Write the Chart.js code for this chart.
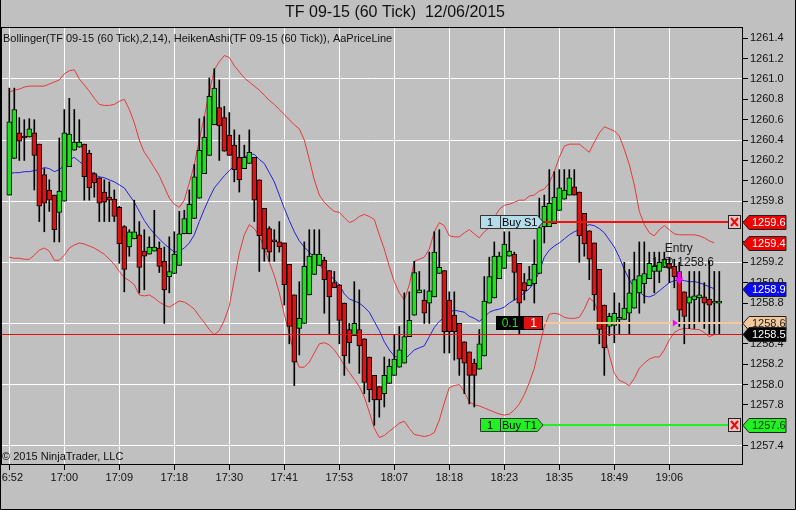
<!DOCTYPE html>
<html>
<head>
<meta charset="utf-8">
<script src="https://cdn.jsdelivr.net/npm/chart.js@4.4.1/dist/chart.umd.min.js"></script>
<style>
  html, body { margin: 0; padding: 0; background: #c0c0c0; }
  canvas { display: block; }
</style>
</head>
<body>
<canvas id="chart" width="796" height="510"></canvas>
<script>
// TF 09-15 (60 Tick) Heiken Ashi + Bollinger(2,14)

const timeLabels = ['16:52', '17:00', '17:09', '17:18', '17:30', '17:41', '17:53', '18:07', '18:18', '18:23', '18:35', '18:49', '19:06'];
const tickBars = [0, 11, 22, 33, 44, 55, 66, 77, 88, 99, 110, 121, 132];
const priceTicks = [1257.4, 1257.6, 1257.8, 1258.0, 1258.2, 1258.4, 1258.6, 1258.8, 1259.0, 1259.2,
  1259.4, 1259.6, 1259.8, 1260.0, 1260.2, 1260.4, 1260.6, 1260.8, 1261.0, 1261.2, 1261.4];

const openP = [
  1259.86, 1260.22, 1260.47, 1260.43, 1260.43, 1260.47, 1260.36, 1260.06, 1259.91, 1259.86,
  1259.69, 1259.80, 1260.14, 1260.30, 1260.33, 1260.36, 1260.27, 1260.07, 1260.03, 1259.89,
  1259.84, 1259.82, 1259.74, 1259.55, 1259.35, 1259.43, 1259.47, 1259.31, 1259.28, 1259.31,
  1259.34, 1259.21, 1259.06, 1259.09, 1259.17, 1259.48, 1259.48, 1259.63, 1259.83, 1260.07,
  1260.25, 1260.55, 1260.72, 1260.62, 1260.45, 1260.35, 1260.23, 1260.12, 1260.17, 1260.23,
  1260.01, 1259.73, 1259.53, 1259.41, 1259.40, 1259.39, 1259.18, 1258.88, 1258.55, 1258.60,
  1258.88, 1259.08, 1259.17, 1259.22, 1259.12, 1259.00, 1258.98, 1258.80, 1258.54, 1258.48,
  1258.54, 1258.45, 1258.27, 1258.09, 1257.98, 1257.91, 1258.01, 1258.09, 1258.17, 1258.21,
  1258.47, 1258.68, 1258.90, 1258.83, 1258.80, 1258.86, 1259.09, 1259.12, 1258.83, 1258.68,
  1258.60, 1258.42, 1258.32, 1258.21, 1258.15, 1258.28, 1258.80, 1258.85, 1259.04, 1259.14,
  1259.26, 1259.28, 1259.19, 1259.00, 1258.97, 1258.99, 1259.09, 1259.55, 1259.55, 1259.58,
  1259.71, 1259.82, 1259.86, 1259.94, 1259.89, 1259.68, 1259.51, 1259.39, 1259.13, 1258.78,
  1258.57, 1258.58, 1258.64, 1258.64, 1258.70, 1258.75, 1258.90, 1258.99, 1259.04, 1259.11,
  1259.11, 1259.15, 1259.19, 1259.16, 1259.11, 1258.91, 1258.80, 1258.83, 1258.85, 1258.86,
  1258.84, 1258.80, 1258.80
];
const closeP = [
  1260.58, 1260.70, 1260.39, 1260.42, 1260.51, 1260.25, 1259.75, 1259.78, 1259.81, 1259.52,
  1259.90, 1260.47, 1260.46, 1260.38, 1260.38, 1260.04, 1259.93, 1259.98, 1259.78, 1259.79,
  1259.81, 1259.65, 1259.38, 1259.13, 1259.50, 1259.50, 1259.15, 1259.26, 1259.35, 1259.35,
  1259.16, 1258.93, 1259.11, 1259.28, 1259.48, 1259.63, 1259.77, 1260.04, 1260.30, 1260.43,
  1260.83, 1260.91, 1260.54, 1260.29, 1260.25, 1260.11, 1260.01, 1260.23, 1260.28, 1259.81,
  1259.46, 1259.33, 1259.30, 1259.40, 1259.35, 1258.98, 1258.57, 1258.22, 1258.65, 1259.16,
  1259.26, 1259.28, 1259.28, 1259.03, 1258.86, 1258.95, 1258.63, 1258.28, 1258.41, 1258.60,
  1258.38, 1258.02, 1257.95, 1257.85, 1257.85, 1258.09, 1258.18, 1258.25, 1258.34, 1258.47,
  1258.63, 1259.10, 1258.93, 1258.70, 1258.92, 1259.30, 1259.15, 1258.52, 1258.52, 1258.52,
  1258.25, 1258.21, 1258.09, 1258.09, 1258.40, 1258.82, 1259.06, 1259.26, 1259.26, 1259.38,
  1259.31, 1259.10, 1258.80, 1258.92, 1259.03, 1259.18, 1259.54, 1259.75, 1259.78, 1259.84,
  1259.93, 1259.91, 1260.03, 1259.86, 1259.46, 1259.38, 1259.23, 1258.88, 1258.54, 1258.36,
  1258.67, 1258.70, 1258.65, 1258.75, 1258.90, 1259.03, 1259.07, 1259.09, 1259.19, 1259.16,
  1259.20, 1259.23, 1259.14, 1259.06, 1258.73, 1258.67, 1258.86, 1258.87, 1258.88, 1258.80,
  1258.78, 1258.80, 1258.80
];
const highP = [
  1260.91, 1260.91, 1260.62, 1260.60, 1260.61, 1260.60, 1260.36, 1260.12, 1260.01, 1259.86,
  1260.42, 1260.70, 1260.81, 1260.70, 1260.60, 1260.36, 1260.30, 1260.08, 1260.03, 1260.01,
  1259.99, 1259.91, 1259.75, 1259.56, 1259.52, 1259.81, 1259.60, 1259.52, 1259.45, 1259.71,
  1259.40, 1259.35, 1259.45, 1259.50, 1259.70, 1259.71, 1259.91, 1260.16, 1260.61, 1260.63,
  1261.01, 1261.10, 1260.99, 1260.73, 1260.67, 1260.50, 1260.45, 1260.35, 1260.50, 1260.23,
  1260.01, 1259.73, 1259.55, 1259.52, 1259.60, 1259.39, 1259.18, 1258.88, 1259.01, 1259.40,
  1259.52, 1259.52, 1259.52, 1259.25, 1259.12, 1259.11, 1258.98, 1258.80, 1258.60, 1259.01,
  1258.93, 1258.45, 1258.27, 1258.09, 1257.98, 1258.27, 1258.25, 1258.49, 1258.57, 1258.90,
  1258.91, 1259.21, 1259.11, 1258.93, 1259.30, 1259.50, 1259.52, 1259.12, 1258.91, 1258.91,
  1258.60, 1258.42, 1258.32, 1258.25, 1258.54, 1259.06, 1259.25, 1259.40, 1259.30, 1259.50,
  1259.50, 1259.30, 1259.19, 1259.09, 1259.16, 1259.42, 1259.83, 1259.86, 1260.11, 1260.09,
  1260.11, 1260.11, 1260.11, 1260.11, 1259.89, 1259.68, 1259.51, 1259.39, 1259.13, 1258.78,
  1258.70, 1258.90, 1258.80, 1259.20, 1259.13, 1259.30, 1259.40, 1259.40, 1259.30, 1259.30,
  1259.30, 1259.30, 1259.25, 1259.23, 1259.20, 1258.91, 1259.11, 1259.11, 1259.11, 1259.00,
  1259.21, 1259.11, 1259.11
];
const lowP = [
  1259.86, 1260.22, 1260.20, 1260.20, 1260.43, 1259.91, 1259.60, 1259.50, 1259.70, 1259.40,
  1259.40, 1259.80, 1260.14, 1260.30, 1260.33, 1259.81, 1259.81, 1259.84, 1259.60, 1259.60,
  1259.60, 1259.60, 1259.19, 1258.91, 1259.26, 1259.43, 1258.90, 1258.93, 1259.28, 1259.31,
  1259.10, 1258.60, 1258.90, 1259.09, 1259.17, 1259.48, 1259.48, 1259.63, 1259.83, 1260.07,
  1260.25, 1260.55, 1260.20, 1260.29, 1260.25, 1259.99, 1259.89, 1260.12, 1260.17, 1259.60,
  1259.11, 1259.21, 1259.21, 1259.21, 1259.30, 1258.78, 1258.40, 1257.99, 1258.29, 1258.60,
  1258.88, 1259.08, 1259.17, 1258.70, 1258.50, 1258.95, 1258.40, 1258.09, 1258.21, 1258.48,
  1258.11, 1257.91, 1257.83, 1257.60, 1257.68, 1257.78, 1258.01, 1258.09, 1258.17, 1258.21,
  1258.47, 1258.68, 1258.90, 1258.60, 1258.60, 1258.86, 1259.09, 1258.31, 1258.31, 1258.24,
  1258.09, 1257.91, 1257.81, 1257.78, 1258.15, 1258.28, 1258.80, 1258.85, 1259.04, 1259.14,
  1259.26, 1258.83, 1258.50, 1258.83, 1258.97, 1258.80, 1259.09, 1259.39, 1259.55, 1259.58,
  1259.71, 1259.82, 1259.86, 1259.86, 1259.20, 1259.26, 1259.03, 1258.73, 1258.40, 1258.09,
  1258.48, 1258.41, 1258.50, 1258.64, 1258.50, 1258.75, 1258.70, 1258.80, 1259.04, 1258.90,
  1259.00, 1259.15, 1259.00, 1258.95, 1258.57, 1258.40, 1258.55, 1258.55, 1258.60, 1258.55,
  1258.50, 1258.50, 1258.50
];

const bbUpper = [
  1260.87, 1260.89, 1260.90, 1260.92, 1260.93, 1260.93, 1260.93, 1260.93, 1260.95, 1260.97,
  1260.99, 1261.05, 1261.08, 1261.09, 1261.00, 1260.94, 1260.88, 1260.81, 1260.75, 1260.74,
  1260.74, 1260.75, 1260.78, 1260.80, 1260.70, 1260.57, 1260.40, 1260.28, 1260.21, 1260.13,
  1260.05, 1259.94, 1259.83, 1259.77, 1259.74, 1259.81, 1259.98, 1260.16, 1260.40, 1260.63,
  1260.87, 1261.09, 1261.17, 1261.23, 1261.21, 1261.13, 1261.07, 1261.01, 1260.97, 1260.93,
  1260.89, 1260.84, 1260.79, 1260.75, 1260.70, 1260.65, 1260.60, 1260.55, 1260.51, 1260.40,
  1260.21, 1260.01, 1259.86, 1259.79, 1259.74, 1259.70, 1259.69, 1259.64, 1259.59, 1259.61,
  1259.65, 1259.67, 1259.65, 1259.62, 1259.47, 1259.33, 1259.16, 1259.01, 1258.90, 1258.83,
  1258.98, 1259.21, 1259.23, 1259.25, 1259.33, 1259.50, 1259.59, 1259.56, 1259.46, 1259.45,
  1259.45, 1259.49, 1259.52, 1259.48, 1259.44, 1259.50, 1259.54, 1259.64, 1259.72, 1259.76,
  1259.77, 1259.79, 1259.81, 1259.81, 1259.85, 1259.86, 1259.90, 1259.92, 1259.98, 1260.09,
  1260.23, 1260.34, 1260.36, 1260.36, 1260.36, 1260.32, 1260.28, 1260.38, 1260.47, 1260.53,
  1260.51, 1260.49, 1260.44, 1260.31, 1260.16, 1259.96, 1259.70, 1259.57, 1259.49, 1259.46,
  1259.52, 1259.56, 1259.52, 1259.48, 1259.47, 1259.47, 1259.47, 1259.47, 1259.46, 1259.44,
  1259.41, 1259.39
];
const bbMid = [
  1260.07, 1260.08, 1260.08, 1260.09, 1260.09, 1260.10, 1260.11, 1260.13, 1260.12, 1260.09,
  1260.11, 1260.15, 1260.21, 1260.23, 1260.19, 1260.15, 1260.11, 1260.06, 1260.04, 1260.03,
  1260.01, 1259.99, 1259.96, 1259.93, 1259.86, 1259.79, 1259.70, 1259.61, 1259.54, 1259.48,
  1259.43, 1259.38, 1259.34, 1259.30, 1259.31, 1259.34, 1259.39, 1259.47, 1259.60, 1259.72,
  1259.83, 1259.93, 1259.99, 1260.05, 1260.10, 1260.15, 1260.19, 1260.23, 1260.26, 1260.26,
  1260.21, 1260.17, 1260.08, 1259.99, 1259.86, 1259.73, 1259.61, 1259.50, 1259.41, 1259.35,
  1259.30, 1259.25, 1259.18, 1259.12, 1259.08, 1259.03, 1258.98, 1258.89, 1258.84, 1258.82,
  1258.80, 1258.76, 1258.71, 1258.62, 1258.53, 1258.42, 1258.34, 1258.28, 1258.26, 1258.25,
  1258.29, 1258.34, 1258.36, 1258.38, 1258.47, 1258.56, 1258.62, 1258.66, 1258.71, 1258.73,
  1258.72, 1258.71, 1258.67, 1258.65, 1258.62, 1258.66, 1258.71, 1258.73, 1258.74, 1258.76,
  1258.80, 1258.83, 1258.86, 1258.90, 1258.94, 1259.00, 1259.11, 1259.25, 1259.32, 1259.36,
  1259.39, 1259.43, 1259.47, 1259.50, 1259.52, 1259.55, 1259.57, 1259.56, 1259.53, 1259.49,
  1259.42, 1259.35, 1259.25, 1259.13, 1259.03, 1258.95, 1258.91, 1258.87, 1258.86, 1258.88,
  1258.92, 1258.96, 1259.00, 1259.02, 1259.03, 1259.02, 1259.01, 1259.01, 1259.00, 1258.98,
  1258.96, 1258.94
];
const bbLower = [
  1259.25, 1259.24, 1259.24, 1259.23, 1259.23, 1259.27, 1259.32, 1259.34, 1259.31, 1259.22,
  1259.22, 1259.27, 1259.34, 1259.37, 1259.39, 1259.38, 1259.36, 1259.34, 1259.31, 1259.28,
  1259.23, 1259.18, 1259.11, 1259.05, 1259.02, 1258.98, 1258.88, 1258.87, 1258.88, 1258.85,
  1258.81, 1258.78, 1258.76, 1258.79, 1258.82, 1258.81, 1258.78, 1258.74, 1258.67, 1258.61,
  1258.54, 1258.49, 1258.53, 1258.63, 1258.77, 1259.03, 1259.29, 1259.47, 1259.57, 1259.53,
  1259.46, 1259.34, 1259.20, 1259.07, 1258.90, 1258.69, 1258.50, 1258.29, 1258.17, 1258.17,
  1258.22, 1258.31, 1258.40, 1258.41, 1258.39, 1258.34, 1258.27, 1258.19, 1258.12, 1258.05,
  1257.98, 1257.88, 1257.73, 1257.57, 1257.48, 1257.50, 1257.54, 1257.58, 1257.62, 1257.64,
  1257.57, 1257.51, 1257.50, 1257.49, 1257.50, 1257.53, 1257.65, 1257.82, 1257.97, 1257.99,
  1258.00, 1257.93, 1257.83, 1257.80, 1257.79, 1257.77, 1257.75, 1257.73, 1257.71, 1257.70,
  1257.71, 1257.75, 1257.81, 1257.90, 1258.02, 1258.16, 1258.37, 1258.57, 1258.69, 1258.70,
  1258.69, 1258.66, 1258.65, 1258.65, 1258.66, 1258.74, 1258.85, 1258.81, 1258.68, 1258.50,
  1258.29, 1258.11, 1258.04, 1258.02, 1257.99, 1258.06, 1258.16, 1258.21, 1258.25, 1258.27,
  1258.27, 1258.34, 1258.44, 1258.51, 1258.54, 1258.55, 1258.55, 1258.54, 1258.54, 1258.51,
  1258.47, 1258.49
];

// order / price levels
const buyStop = 1259.6;     // 1 Buy S1
const buyTarget = 1257.6;   // 1 Buy T1
const entryPrice = 1258.6;  // 1 @ 1258.6
const priceLine = 1258.5;   // AaPriceLine
const entryBar = 134;
const arrowPrice = 1258.98;
const tagBar = 94.1;

const FONT = '"Liberation Sans", Arial, sans-serif';
const GREEN = '#1fe01f';
const RED = '#d81414';

const idx = openP.map((_, i) => i);

function flag(ctx, xTip, y, fill, text, textColor) {
  ctx.beginPath();
  ctx.moveTo(xTip, y);
  ctx.lineTo(xTip + 6, y - 7);
  ctx.lineTo(xTip + 43, y - 7);
  ctx.lineTo(xTip + 43, y + 7);
  ctx.lineTo(xTip + 6, y + 7);
  ctx.closePath();
  ctx.fillStyle = fill;
  ctx.fill();
  ctx.strokeStyle = '#222';
  ctx.lineWidth = 1;
  ctx.stroke();
  ctx.fillStyle = textColor;
  ctx.font = '11px ' + FONT;
  ctx.textAlign = 'left';
  ctx.textBaseline = 'middle';
  ctx.fillText(text, xTip + 9, y + 0.5);
}

function orderTag(ctx, x0, y, fill, qty, name) {
  ctx.beginPath();
  ctx.moveTo(x0 + 0.5, y - 6.5);
  ctx.lineTo(x0 + 57.5, y - 6.5);
  ctx.lineTo(x0 + 63, y);
  ctx.lineTo(x0 + 57.5, y + 6.5);
  ctx.lineTo(x0 + 0.5, y + 6.5);
  ctx.closePath();
  ctx.fillStyle = fill;
  ctx.fill();
  ctx.strokeStyle = '#333';
  ctx.lineWidth = 1;
  ctx.stroke();
  ctx.beginPath();
  ctx.moveTo(x0 + 20.5, y - 6.5);
  ctx.lineTo(x0 + 20.5, y + 6.5);
  ctx.stroke();
  ctx.fillStyle = '#000';
  ctx.font = '11px ' + FONT;
  ctx.textBaseline = 'middle';
  ctx.textAlign = 'center';
  ctx.fillText(qty, x0 + 10, y + 0.5);
  ctx.textAlign = 'left';
  ctx.fillText(name, x0 + 22, y + 0.5);
}

function cancelBox(ctx, xr, y) {
  ctx.fillStyle = '#f0c4c4';
  ctx.fillRect(xr - 14, y - 7, 13, 14);
  ctx.strokeStyle = '#222';
  ctx.lineWidth = 1;
  ctx.strokeRect(xr - 13.5, y - 6.5, 12, 13);
  ctx.strokeStyle = '#e01010';
  ctx.lineWidth = 2;
  ctx.beginPath();
  ctx.moveTo(xr - 11, y - 4); ctx.lineTo(xr - 4, y + 4);
  ctx.moveTo(xr - 4, y - 4); ctx.lineTo(xr - 11, y + 4);
  ctx.stroke();
}

const overlay = {
  id: 'overlay',
  beforeDraw(chart) {
    const ctx = chart.ctx;
    ctx.save();
    ctx.fillStyle = '#c0c0c0';
    ctx.fillRect(0, 0, chart.width, chart.height);
    ctx.restore();
  },
  afterDatasetsDraw(chart) {
    const ctx = chart.ctx;
    const a = chart.chartArea;
    const xs = chart.scales.x, ys = chart.scales.y;
    const tagX = Math.round(xs.getPixelForValue(tagBar));
    const lineStart = tagX + 63;
    ctx.save();
    ctx.beginPath();
    ctx.rect(a.left, a.top, a.right - a.left, a.bottom - a.top);
    ctx.clip();

    // AaPriceLine
    let y = Math.round(ys.getPixelForValue(priceLine)) + 0.5;
    ctx.strokeStyle = '#e01010';
    ctx.lineWidth = 1;
    ctx.beginPath(); ctx.moveTo(a.left, y); ctx.lineTo(a.right, y); ctx.stroke();

    // entry position line
    y = Math.round(ys.getPixelForValue(entryPrice));
    ctx.strokeStyle = '#f4c89c';
    ctx.lineWidth = 2;
    ctx.beginPath(); ctx.moveTo(lineStart - 2, y); ctx.lineTo(a.right, y); ctx.stroke();

    // stop and target orders
    const yS = Math.round(ys.getPixelForValue(buyStop));
    const yT = Math.round(ys.getPixelForValue(buyTarget));
    ctx.lineWidth = 2;
    ctx.strokeStyle = '#f01010';
    ctx.beginPath(); ctx.moveTo(lineStart, yS); ctx.lineTo(a.right - 14, yS); ctx.stroke();
    ctx.strokeStyle = '#22f022';
    ctx.beginPath(); ctx.moveTo(lineStart, yT); ctx.lineTo(a.right - 14, yT); ctx.stroke();

    orderTag(ctx, tagX, yS, '#b4dcea', '1', 'Buy S1');
    orderTag(ctx, tagX, yT, '#22f022', '1', 'Buy T1');
    cancelBox(ctx, a.right, yS);
    cancelBox(ctx, a.right, yT);

    // position tag 0.1 | 1
    const yE = Math.round(ys.getPixelForValue(entryPrice));
    ctx.fillStyle = '#000';
    ctx.fillRect(tagX + 16, yE - 7, 28, 14);
    ctx.fillStyle = '#e01010';
    ctx.fillRect(tagX + 44, yE - 7, 19, 14);
    ctx.strokeStyle = '#000';
    ctx.lineWidth = 1;
    ctx.strokeRect(tagX + 16.5, yE - 6.5, 46, 13);
    ctx.font = '12px ' + FONT;
    ctx.textAlign = 'center';
    ctx.textBaseline = 'middle';
    ctx.fillStyle = '#22e022';
    ctx.fillText('0.1', tagX + 30, yE + 0.5);
    ctx.fillStyle = '#fff';
    ctx.fillText('1', tagX + 53.5, yE + 0.5);

    // execution marker
    const xe = xs.getPixelForValue(entryBar);
    const ya = ys.getPixelForValue(arrowPrice);
    ctx.fillStyle = '#ff00ff';
    ctx.fillRect(xe - 1.5, ya - 13, 3, 7);
    ctx.beginPath();
    ctx.moveTo(xe - 4, ya - 7); ctx.lineTo(xe + 4, ya - 7); ctx.lineTo(xe, ya); ctx.closePath();
    ctx.fill();
    const xt = xs.getPixelForValue(entryBar - 0.3);
    ctx.beginPath();
    ctx.moveTo(xt - 5, yE - 3.5); ctx.lineTo(xt, yE); ctx.lineTo(xt - 5, yE + 3.5); ctx.closePath();
    ctx.fill();

    ctx.fillStyle = '#1a1a1a';
    ctx.font = '12px ' + FONT;
    ctx.textAlign = 'left';
    ctx.textBaseline = 'middle';
    ctx.fillText('Entry', xs.getPixelForValue(entryBar - 2.9), ys.getPixelForValue(1259.33));
    ctx.fillText('1 @ 1258.6', xs.getPixelForValue(entryBar - 5.5), ys.getPixelForValue(1259.20));
    ctx.restore();
  },
  afterDraw(chart) {
    const ctx = chart.ctx;
    const a = chart.chartArea;
    const ys = chart.scales.y;
    ctx.save();
    // frames
    ctx.strokeStyle = '#000';
    ctx.lineWidth = 1;
    ctx.strokeRect(a.left + 0.5, a.top + 0.5, a.right - a.left, a.bottom - a.top);
    ctx.beginPath();
    ctx.moveTo(0.5, 0); ctx.lineTo(0.5, chart.height - 0.5);
    ctx.lineTo(chart.width - 0.5, chart.height - 0.5); ctx.lineTo(chart.width - 0.5, 0);
    ctx.stroke();

    // title and captions
    ctx.fillStyle = '#111';
    ctx.textBaseline = 'middle';
    ctx.textAlign = 'center';
    ctx.font = '16px ' + FONT;
    ctx.fillText('TF 09-15 (60 Tick)  12/06/2015', 395, 13);
    ctx.textAlign = 'left';
    ctx.font = '11px ' + FONT;
    ctx.fillText('Bollinger(TF 09-15 (60 Tick),2,14), HeikenAshi(TF 09-15 (60 Tick)), AaPriceLine', 3, 39);
    ctx.fillText('\u00a9 2015 NinjaTrader, LLC', 2, 457);

    // right axis flags
    const tip = a.right + 1;
    const yOf = v => Math.round(ys.getPixelForValue(v)) + 0.5;
    flag(ctx, tip, yOf(buyStop), '#f00000', '1259.6', '#fff');
    flag(ctx, tip, yOf(bbUpper[bbUpper.length - 1]), '#f00000', '1259.4', '#fff');
    flag(ctx, tip, yOf(bbMid[bbMid.length - 1]), '#0a0af0', '1258.9', '#fff');
    flag(ctx, tip, yOf(entryPrice), '#f4c89c', '1258.6', '#222');
    flag(ctx, tip, yOf(priceLine), '#000', '1258.5', '#fff');
    flag(ctx, tip, yOf(buyTarget), '#22f022', '1257.6', '#063806');
    ctx.restore();
  }
};

const ctx = document.getElementById('chart').getContext('2d');
new Chart(ctx, {
  type: 'bar',
  data: {
    datasets: [
      {
        type: 'line', label: 'Upper', order: 3,
        data: bbUpper.map((v, i) => ({ x: i, y: v })),
        borderColor: '#e8383a', borderWidth: 1, pointRadius: 0, tension: 0
      },
      {
        type: 'line', label: 'Middle', order: 3,
        data: bbMid.map((v, i) => ({ x: i, y: v })),
        borderColor: '#2222e0', borderWidth: 1, pointRadius: 0, tension: 0
      },
      {
        type: 'line', label: 'Lower', order: 3,
        data: bbLower.map((v, i) => ({ x: i, y: v })),
        borderColor: '#e8383a', borderWidth: 1, pointRadius: 0, tension: 0
      },
      {
        label: 'Wick', order: 2, grouped: false,
        data: idx.map(i => ({ x: i, y: [lowP[i], highP[i]] })),
        backgroundColor: '#000', barThickness: 1, borderWidth: 0
      },
      {
        label: 'Body', order: 1, grouped: false,
        data: idx.map(i => ({ x: i, y: [openP[i], closeP[i]] })),
        backgroundColor: idx.map(i => closeP[i] >= openP[i] ? GREEN : RED),
        borderColor: '#000', borderWidth: 1, borderSkipped: false,
        barThickness: 5, minBarLength: 2
      }
    ]
  },
  options: {
    responsive: false,
    animation: false,
    layout: { padding: { top: 27, left: 1, right: 0, bottom: 0 } },
    plugins: { legend: { display: false }, tooltip: { enabled: false }, title: { display: false } },
    scales: {
      x: {
        type: 'linear',
        min: -1.66,
        max: 146.54,
        offset: false,
        afterBuildTicks: s => { s.ticks = tickBars.map(v => ({ value: v })); },
        afterFit: s => { s.height = 46; s.paddingLeft = 0; s.paddingRight = 0; },
        ticks: {
          autoSkip: false, maxRotation: 0, padding: 1,
          color: '#111', font: { family: FONT, size: 11 },
          callback: (v, i) => timeLabels[i]
        },
        grid: { color: '#ffffff', lineWidth: 1, drawTicks: true, tickLength: 6, tickColor: '#000', offset: false },
        border: { display: true, color: '#000' }
      },
      y: {
        position: 'right',
        min: 1257.22,
        max: 1261.51,
        afterBuildTicks: s => { s.ticks = priceTicks.map(v => ({ value: v })); },
        afterFit: s => { s.width = 54; s.paddingTop = 0; s.paddingBottom = 0; },
        ticks: {
          padding: 2, color: '#111', font: { family: FONT, size: 11 },
          callback: v => v.toFixed(1)
        },
        grid: {
          color: c => (c.index % 3 === 0 ? '#ffffff' : 'rgba(0,0,0,0)'),
          lineWidth: 1, drawTicks: true, tickLength: 6, tickColor: '#000'
        },
        border: { display: true, color: '#000' }
      }
    }
  },
  plugins: [overlay]
});
</script>
</body>
</html>
